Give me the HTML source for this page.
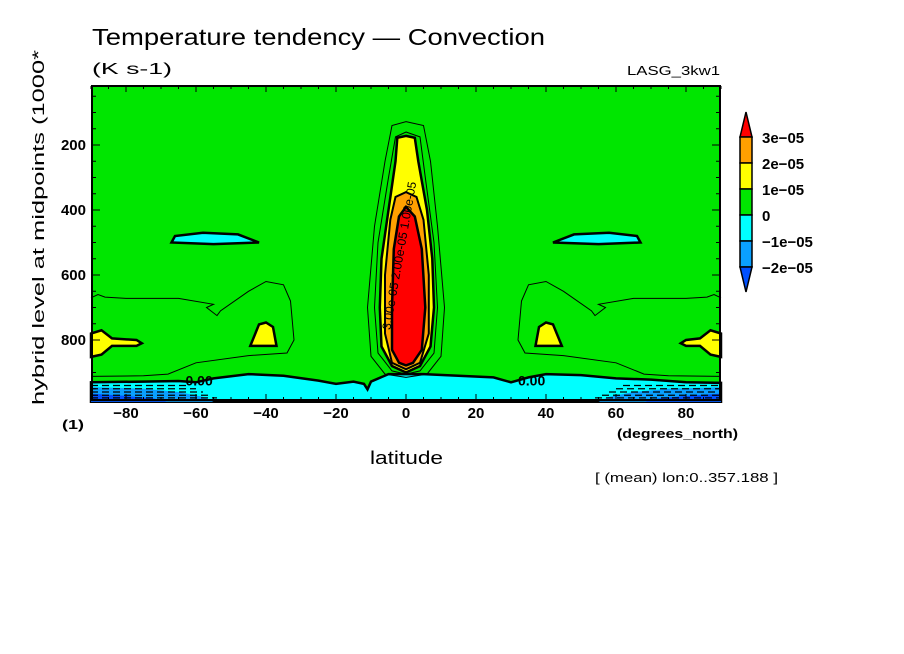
<!DOCTYPE html>
<html><head><meta charset="utf-8"><style>
body{margin:0;background:#fff;width:904px;height:654px;overflow:hidden}
svg{display:block}
text{font-family:"Liberation Sans",sans-serif;fill:#000}
</style></head><body>
<svg id="c" width="904" height="654" viewBox="0 0 904 654">
<text x="92" y="45" font-size="23" textLength="453" lengthAdjust="spacingAndGlyphs">Temperature tendency — Convection</text>
<text x="92" y="74" font-size="16" textLength="80" lengthAdjust="spacingAndGlyphs">(K s-1)</text>
<text x="627" y="75" font-size="13" textLength="93" lengthAdjust="spacingAndGlyphs">LASG_3kw1</text>
<g id="plot"></g>
<text transform="translate(44,405) rotate(-90)" font-size="17" textLength="355" lengthAdjust="spacingAndGlyphs">hybrid level at midpoints (1000*</text>
<text x="62" y="429" font-size="13" font-weight="bold" textLength="22" lengthAdjust="spacingAndGlyphs">(1)</text>
<text x="617" y="438" font-size="13" font-weight="bold" textLength="121" lengthAdjust="spacingAndGlyphs">(degrees_north)</text>
<text x="370" y="464" font-size="18" textLength="73" lengthAdjust="spacingAndGlyphs">latitude</text>
<text x="595" y="482" font-size="13" textLength="183" lengthAdjust="spacingAndGlyphs">[ (mean) lon:0..357.188 ]</text>
<g id="cbar"></g>
</svg>
<script>
// axis data
const xTicks=[-80,-60,-40,-20,0,20,40,60,80];
const yTicks=[200,400,600,800];
const cbarLevels=["3e-05","2e-05","1e-05","0","-1e-05","-2e-05"];
const cbarColors=["#ff0000","#ffa000","#ffff00","#00e600","#00ffff","#0aa0ff","#0050ff"];
// contour regions [lat, level]
const cyanBand=[[-90,930],[-75,928],[-65,926],[-60,930],[-55,918],[-45,905],[-35,910],[-25,925],[-20,935],[-15,928],[-12,935],[-11,952],[-10,928],[-5,905],[5,905],[15,910],[25,915],[30,930],[35,915],[40,905],[50,908],[60,918],[70,922],[80,930],[90,932],[90,990],[-90,990]];
const blueBand=[[-90,945],[-75,950],[-65,960],[-58,975],[-55,990],[-90,990]];
const blueBand2=[[90,945],[75,950],[65,960],[58,975],[55,990],[90,990]];
const darkBlueW=[[-90,965],[-80,972],[-72,980],[-68,990],[-90,990]];
const darkBlueE=[[90,965],[80,972],[72,980],[68,990],[90,990]];
const yellowTower=[[0,172],[2.5,178],[3.5,250],[6,400],[7.5,550],[8,700],[7,820],[4,880],[0,900],[-4,880],[-7,820],[-7.5,700],[-7,550],[-5,400],[-3,250],[-2.5,178]];
const orangeTower=[[0,345],[3,360],[5,430],[6.5,600],[6.5,780],[4,870],[0,890],[-4,870],[-6,780],[-6,600],[-4.5,430],[-3,360]];
const redTower=[[0,390],[2.5,420],[4.5,520],[5.5,700],[4.5,830],[2,870],[0,878],[-2,870],[-4,830],[-4,700],[-3.5,520],[-2,420]];
const cyanBlobW=[[-67,500],[-66,480],[-58,470],[-48,475],[-42,500],[-55,505]];
const cyanBlobE=[[67,500],[66,480],[58,470],[48,475],[42,500],[55,505]];
const yellowBlobW=[[-44.5,818],[-42,752],[-40,746],[-38,760],[-37,818]];
const yellowBlobE=[[44.5,818],[42,752],[40,746],[38,760],[37,818]];
const yellowEdgeW=[[-90,780],[-87,770],[-84,795],[-77,800],[-75.5,810],[-77,818],[-84,818],[-87,845],[-90,852]];
const yellowEdgeE=[[90,780],[87,770],[84,795],[80,800],[78.5,810],[80,818],[84,818],[87,845],[90,852]];
const thinLine1=[[-90,670],[-88,660],[-86,668],[-80,672],[-65,672],[-55,690],[-57,700],[-54,725],[-53,710],[-45,650],[-40,620],[-35,630],[-33,680],[-32,800],[-34,840],[-45,848],[-60,870],[-68,905],[-75,910],[-90,912]];
const thinLine2=[[90,670],[88,660],[86,668],[80,672],[65,672],[55,690],[57,700],[54,725],[53,710],[45,650],[40,620],[35,630],[33,680],[32,800],[34,840],[45,848],[60,870],[68,905],[75,910],[90,912]];
const outerTower=[[0,128],[5,140],[7,250],[9,450],[11,700],[10,850],[6,905],[0,915],[-6,905],[-10,850],[-11,700],[-9,450],[-6,250],[-4,140]];
const midTower=[[0,160],[4,175],[5.5,300],[8,500],[9,700],[8,840],[4,895],[0,905],[-4,895],[-8,840],[-9,700],[-8,500],[-5,300],[-3,175]];
const dashLevels=[940,950,960,970,978];

const X=lat=>406+lat*3.5, Y=p=>145+(p-200)*0.325;
const NS="http://www.w3.org/2000/svg";
const plotG=document.getElementById('plot'), cbG=document.getElementById('cbar');
function mk(tag,at,par){const e=document.createElementNS(NS,tag);for(const k in at)e.setAttribute(k,at[k]);(par||plotG).appendChild(e);return e;}
function pts(a){return a.map(d=>X(d[0]).toFixed(1)+','+Y(d[1]).toFixed(1)).join(' ');}
const bg=mk('rect',{x:92,y:86,width:628,height:314,fill:'#00e600'});


const polys=[[cyanBand,'#00ffff','cyan-band',2.5],[blueBand,'#0aa0ff','blue-band-west',0],[blueBand2,'#0aa0ff','blue-band-east',0],[darkBlueW,'#0050ff','dark-blue-west',0],[darkBlueE,'#0050ff','dark-blue-east',0],
[outerTower,'none','outer-contour',1],[midTower,'none','mid-contour',1],[yellowTower,'#ffff00','yellow-region',2.5],[orangeTower,'#ffa000','orange-region',2],[redTower,'#ff0000','red-region',2.5],
[cyanBlobW,'#00ffff','cyan-blob-west',2.5],[cyanBlobE,'#00ffff','cyan-blob-east',2.5],[yellowBlobW,'#ffff00','yellow-blob-west',2.5],[yellowBlobE,'#ffff00','yellow-blob-east',2.5],
[yellowEdgeW,'#ffff00','yellow-edge-west',2.5],[yellowEdgeE,'#ffff00','yellow-edge-east',2.5]];
polys.forEach(p=>{const e=mk('polygon',{points:pts(p[0]),fill:p[1],stroke:p[3]?'#000':'none','stroke-width':p[3]});

});
[thinLine1,thinLine2].forEach((l,i)=>{const e=mk('polyline',{points:pts(l),fill:'none',stroke:'#000','stroke-width':1});

});
dashLevels.forEach((p,i)=>{[[-90,-62+i*2],[62-i*2,90]].forEach(r=>{const e=mk('line',{x1:X(r[0]),x2:X(r[1]),y1:Y(p),y2:Y(p),stroke:'#000','stroke-width':1.2,'stroke-dasharray':'7,4'});

});});
[[-63,'0.00'],[32,'0.00']].forEach(l=>{const t=mk('text',{x:X(l[0]),y:Y(925)+5,'font-size':14,'font-weight':'bold'});t.textContent=l[1];

});
const tl=mk('text',{transform:`translate(${X(-4.5)},${Y(770)}) rotate(-80)`,'font-size':12,textLength:150,lengthAdjust:'spacingAndGlyphs'});tl.textContent='3.00e-05 2.00e-05 1.00e-05';


const fr=mk('rect',{x:92,y:86,width:628,height:314,fill:'none',stroke:'#000','stroke-width':2});


for(let lat=-90;lat<=90;lat+=5){const len=lat%20===0?6:3;
mk('line',{x1:X(lat),x2:X(lat),y1:400,y2:400-len,stroke:'#000'});mk('line',{x1:X(lat),x2:X(lat),y1:86,y2:86+len,stroke:'#000'});}
for(let p=50;p<=950;p+=50){const len=p%200===0?8:4;mk('line',{x1:92,x2:92+len,y1:Y(p),y2:Y(p),stroke:'#000'});mk('line',{x1:720,x2:720-len,y1:Y(p),y2:Y(p),stroke:'#000'});}
xTicks.forEach(v=>{const t=mk('text',{x:X(v),y:418,'font-size':15,'font-weight':'bold','text-anchor':'middle'});t.textContent=String(v).replace('-','−');

});
yTicks.forEach(v=>{const t=mk('text',{x:86,y:Y(v)+5,'font-size':15,'font-weight':'bold','text-anchor':'end'});t.textContent=v;

});
// colorbar
const cbx=740,cbw=12,cbTop=137,cbh=26;
const tri1=mk('polygon',{points:`${cbx},${cbTop} ${cbx+cbw/2},${cbTop-25} ${cbx+cbw},${cbTop}`,fill:cbarColors[0],stroke:'#000','stroke-width':1.5},cbG);


for(let i=1;i<=5;i++){const e=mk('rect',{x:cbx,y:cbTop+(i-1)*cbh,width:cbw,height:cbh,fill:cbarColors[i],stroke:'#000','stroke-width':1.5},cbG);

}
const tri2=mk('polygon',{points:`${cbx},${cbTop+5*cbh} ${cbx+cbw/2},${cbTop+5*cbh+25} ${cbx+cbw},${cbTop+5*cbh}`,fill:cbarColors[6],stroke:'#000','stroke-width':1.5},cbG);


cbarLevels.forEach((s,i)=>{const t=mk('text',{x:762,y:cbTop+i*cbh+6,'font-size':15,'font-weight':'bold'},cbG);t.textContent=s.replace(/-/g,'−');

});
</script>
</body></html>
